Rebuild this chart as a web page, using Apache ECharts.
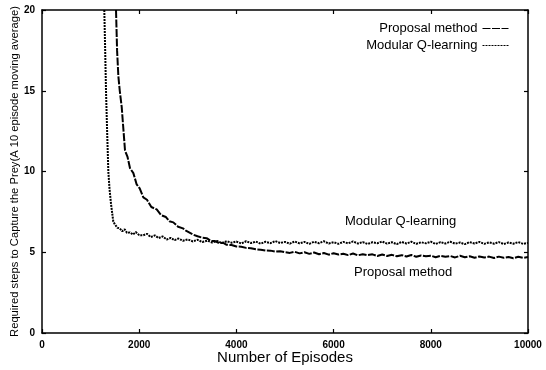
<!DOCTYPE html>
<html>
<head>
<meta charset="utf-8">
<script src="https://cdn.jsdelivr.net/npm/echarts@6/dist/echarts.min.js"></script>
<style>
  html, body { margin: 0; padding: 0; background: #fff; }
  #chart { width: 546px; height: 370px; }
</style>
</head>
<body>
<div id="chart"></div>
<script>
  // values (episodes, steps)
  let proposalX = [1523, 1545, 1571, 1600, 1640, 1670, 1708, 1760, 1811, 1880, 1948, 2010, 2085, 2160, 2250, 2360, 2450, 2550, 2620, 2702, 2800, 2900, 2970, 3045, 3120, 3200, 3300, 3388, 3480, 3560, 3650, 3731, 3800, 3900, 4000, 4100, 4200, 4300, 4400, 4500, 4600, 4700, 4800, 4900, 5000, 5100, 5200, 5300, 5400, 5500, 5600, 5700, 5800, 5900, 6000, 6100, 6200, 6300, 6400, 6500, 6600, 6700, 6800, 6900, 7000, 7100, 7200, 7300, 7400, 7500, 7600, 7700, 7800, 7900, 8000, 8100, 8200, 8300, 8400, 8500, 8600, 8700, 8800, 8900, 9000, 9100, 9200, 9300, 9400, 9500, 9600, 9700, 9800, 9900, 10000]
  let proposalY = [20, 17.5, 15.9, 15, 14, 12.8, 11.3, 10.9, 10.2, 9.9, 9.2, 8.95, 8.4, 8.25, 7.8, 7.65, 7.3, 7.18, 6.92, 6.85, 6.58, 6.48, 6.32, 6.2, 6.08, 5.99, 5.9, 5.87, 5.7, 5.69, 5.56, 5.58, 5.46, 5.45, 5.36, 5.34, 5.27, 5.25, 5.18, 5.16, 5.11, 5.1, 5.04, 5.06, 5.0, 4.96, 5.03, 4.93, 5.0, 4.9, 4.98, 4.88, 4.95, 4.85, 4.94, 4.86, 4.91, 4.82, 4.92, 4.81, 4.88, 4.82, 4.87, 4.77, 4.86, 4.77, 4.84, 4.75, 4.82, 4.74, 4.83, 4.72, 4.8, 4.75, 4.79, 4.69, 4.78, 4.72, 4.77, 4.68, 4.78, 4.69, 4.75, 4.66, 4.74, 4.68, 4.73, 4.64, 4.73, 4.66, 4.71, 4.63, 4.72, 4.65, 4.7]
  let modularX = [1282, 1300, 1317, 1340, 1365, 1390, 1420, 1445, 1467, 1500, 1550, 1600, 1650, 1700, 1750, 1811, 1870, 1930, 2000, 2080, 2160, 2240, 2320, 2400, 2480, 2566, 2650, 2730, 2810, 2900, 3000, 3100, 3200, 3300, 3400, 3500, 3600, 3700, 3800, 3900, 4000, 4100, 4200, 4300, 4400, 4500, 4600, 4700, 4800, 4900, 5000, 5100, 5200, 5300, 5400, 5500, 5600, 5700, 5800, 5900, 6000, 6100, 6200, 6300, 6400, 6500, 6600, 6700, 6800, 6900, 7000, 7100, 7200, 7300, 7400, 7500, 7600, 7700, 7800, 7900, 8000, 8100, 8200, 8300, 8400, 8500, 8600, 8700, 8800, 8900, 9000, 9100, 9200, 9300, 9400, 9500, 9600, 9700, 9800, 9900, 10000]
  let modularY = [20, 17.5, 15, 12.5, 10, 8.9, 8, 7.4, 6.9, 6.72, 6.52, 6.48, 6.3, 6.42, 6.2, 6.23, 6.1, 6.25, 6.06, 6.05, 6.14, 5.94, 6.04, 5.88, 5.98, 5.79, 5.89, 5.75, 5.85, 5.71, 5.8, 5.67, 5.77, 5.63, 5.72, 5.6, 5.7, 5.57, 5.68, 5.59, 5.66, 5.54, 5.68, 5.57, 5.66, 5.53, 5.65, 5.56, 5.69, 5.57, 5.64, 5.53, 5.67, 5.55, 5.64, 5.52, 5.65, 5.56, 5.68, 5.54, 5.62, 5.52, 5.64, 5.55, 5.67, 5.54, 5.63, 5.51, 5.62, 5.56, 5.66, 5.53, 5.62, 5.5, 5.64, 5.54, 5.65, 5.52, 5.62, 5.55, 5.65, 5.51, 5.63, 5.54, 5.65, 5.53, 5.6, 5.5, 5.63, 5.54, 5.64, 5.52, 5.61, 5.53, 5.63, 5.51, 5.6, 5.53, 5.63, 5.52, 5.58]

  let xTicks = [0, 2000, 4000, 6000, 8000, 10000]
  let yTicks = [0, 5, 10, 15, 20]

  function pairs(xs, ys) {
    return xs.map((x, i) => [x, ys[i]])
  }

  let chart = echarts.init(document.getElementById('chart'))
  let font = 'Liberation Sans, Arial, sans-serif'

  let baseX = {
    type: 'value',
    min: xTicks[0],
    max: xTicks[xTicks.length - 1],
    interval: xTicks[1] - xTicks[0],
    splitLine: { show: false },
    axisLine: { show: true, onZero: false, lineStyle: { color: '#000', width: 1.5 } },
    axisTick: { show: true, inside: true, length: 4, lineStyle: { color: '#000', width: 1.2 } }
  }
  let baseY = {
    type: 'value',
    min: yTicks[0],
    max: yTicks[yTicks.length - 1],
    interval: yTicks[1] - yTicks[0],
    splitLine: { show: false },
    axisLine: { show: true, onZero: false, lineStyle: { color: '#000', width: 1.5 } },
    axisTick: { show: true, inside: true, length: 4, lineStyle: { color: '#000', width: 1.2 } }
  }

  chart.setOption({
    animation: false,
    backgroundColor: '#fff',
    textStyle: { fontFamily: font },
    grid: { left: 42, right: 18, top: 10, bottom: 37, containLabel: false, outerBoundsMode: 'none' },
    legend: {
      right: 32,
      top: 17,
      orient: 'vertical',
      align: 'right',
      itemGap: 4,
      itemWidth: 26,
      itemHeight: 10,
      itemStyle: { opacity: 0 },
      lineStyle: { width: 1 },
      textStyle: { fontSize: 13, color: '#000', fontFamily: font },
      data: ['Proposal method', 'Modular Q-learning']
    },
    xAxis: [
      Object.assign({}, baseX, {
        position: 'bottom',
        name: 'Number of Episodes',
        nameLocation: 'middle',
        nameGap: 17,
        nameMoveOverlap: false,
        nameTextStyle: { fontSize: 15, color: '#000' },
        axisLabel: { fontSize: 10, fontWeight: 'bold', color: '#000', margin: 7, formatter: v => String(v) }
      }),
      Object.assign({}, baseX, { position: 'top', axisLabel: { show: false } })
    ],
    yAxis: [
      Object.assign({}, baseY, {
        position: 'left',
        name: 'Required steps to Capture the Prey(A 10 episode moving average)',
        nameLocation: 'middle',
        nameRotate: 90,
        nameGap: 22,
        nameMoveOverlap: false,
        nameTextStyle: { fontSize: 11.2, color: '#000' },
        axisLabel: { fontSize: 10, fontWeight: 'bold', color: '#000', margin: 7 }
      }),
      Object.assign({}, baseY, { position: 'right', axisLabel: { show: false } })
    ],
    graphic: [
      { type: 'text', left: 345, top: 215, style: { text: 'Modular Q-learning', font: '13px ' + font, fill: '#000' } },
      { type: 'text', left: 354, top: 266, style: { text: 'Proposal method', font: '13px ' + font, fill: '#000' } }
    ],
    series: [
      {
        name: 'Proposal method',
        type: 'line',
        symbol: 'none',
        clip: true,
        data: pairs(proposalX, proposalY),
        itemStyle: { color: '#000' },
        lineStyle: { color: '#000', width: 2, type: [8, 1.5] }
      },
      {
        name: 'Modular Q-learning',
        type: 'line',
        symbol: 'none',
        clip: true,
        data: pairs(modularX, modularY),
        itemStyle: { color: '#000' },
        lineStyle: { color: '#000', width: 2, type: [2, 1] }
      }
    ]
  })
</script>
</body>
</html>
